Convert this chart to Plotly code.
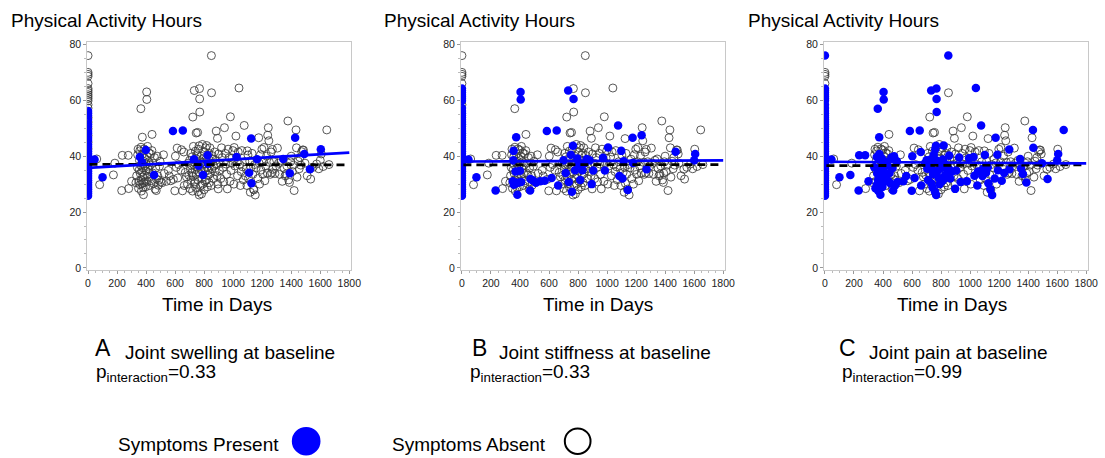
import plotly.graph_objects as go

# ---------------- data ----------------
# membership string: letters of panels (A, B, C) in which the point is "Symptoms Present"
baseline_hours = [76.0, 70.0, 69.3, 68.6, 66.0, 64.2, 63.5, 62.8, 62.0, 61.3, 60.6, 59.8, 58.4, 57.2,
                  56.2, 55.4, 54.6, 53.8, 53.0, 52.2, 51.4, 50.6, 49.8, 49.0, 48.2, 47.4, 46.6, 45.8,
                  45.0, 44.2, 43.4, 42.6, 41.8, 41.0, 40.2, 39.4, 38.6, 37.8, 37.0, 36.2, 35.4, 34.6,
                  33.8, 33.0, 32.2, 31.4, 30.6, 29.8, 29.0, 28.2, 27.4, 26.6, 25.8]
baseline_present = ["C", "", "", "", "", "BC", "BC", "BC", "BC", "BC", "BC", "BC", "C", "BC",
                    "ABC", "ABC", "ABC", "BC", "ABC", "BC", "ABC", "ABC", "BC", "ABC", "ABC", "BC", "ABC", "ABC",
                    "BC", "ABC", "ABC", "BC", "ABC", "ABC", "ABC", "BC", "ABC", "ABC", "ABC", "ABC", "ABC", "ABC",
                    "ABC", "ABC", "ABC", "ABC", "ABC", "ABC", "ABC", "ABC", "ABC", "ABC", "ABC"]

early = [(45, 38.8, "ABC"), (60, 39.0, ""), (80, 29.8, ""), (100, 32.5, "ABC"), (175, 33.3, "C"),
         (185, 37.5, ""), (232, 27.7, "BC"), (236, 40.3, "C"), (277, 40.3, "C"), (280, 28.4, ""),
         (300, 31.0, "C")]

year1 = [(330, 30.5, ""), (335, 33.0, ""), (340, 36.0, "C"), (342, 40.5, ""), (345, 42.5, ""),
         (348, 28.5, "C"), (350, 31.0, "B"), (352, 35.0, ""), (354, 38.5, "B"), (356, 41.9, "B"),
         (357, 39.7, "AC"), (358, 29.8, "BC"), (360, 33.8, "C"), (362, 36.8, ""), (364, 57.0, "C"),
         (365, 43.2, ""), (366, 31.5, "C"), (368, 27.5, "C"), (370, 34.5, "B"), (371, 30.2, "BC"),
         (372, 37.8, "A"), (374, 46.8, "BC"), (375, 40.8, "C"), (376, 32.5, "C"), (378, 35.8, "C"),
         (380, 28.8, ""), (382, 26.2, "BC"), (383, 38.2, ""), (385, 30.5, "B"), (386, 42.6, ""),
         (388, 33.2, "C"), (390, 36.5, ""), (392, 39.2, "C"), (394, 31.0, "C"), (396, 29.0, "C"),
         (398, 42.2, "A"), (400, 34.8, "BC"), (402, 37.2, "C"), (404, 63.0, "BC"), (405, 60.3, "BC"),
         (406, 40.0, ""), (408, 30.8, "BC"), (410, 43.5, ""), (412, 32.6, "C"), (415, 35.5, ""),
         (418, 38.0, "C"), (420, 41.2, ""), (422, 29.5, ""), (425, 33.8, "C"), (428, 36.8, "C"),
         (432, 40.8, ""), (435, 31.2, "C"), (440, 42.0, ""), (441, 47.8, ""), (445, 34.0, "C"),
         (448, 37.5, ""), (452, 30.2, "C"), (455, 33.3, "A"), (458, 39.5, "C"), (462, 28.2, ""),
         (466, 35.8, "C"), (470, 27.7, "BC"), (472, 31.8, "B"), (476, 40.0, "C"), (480, 33.0, ""),
         (484, 29.6, "C"), (488, 31.4, "B"), (492, 36.4, ""), (496, 38.2, "C"), (500, 30.8, "C")]

mid1 = [(510, 30.5, "B"), (520, 40.5, ""), (525, 33.8, ""), (540, 31.0, "BC"), (553, 34.9, ""),
        (560, 32.9, "C"), (570, 31.2, "B"), (585, 49.0, "ABC"), (588, 31.7, ""), (598, 27.6, "C"),
        (602, 40.0, "C"), (608, 36.0, ""), (614, 42.9, ""), (618, 32.2, "BC"), (625, 37.0, ""),
        (640, 35.0, ""), (644, 42.3, ""), (651, 27.6, ""), (653, 49.2, "ABC"), (660, 41.5, "C"),
        (663, 29.5, "BC"), (670, 34.2, ""), (678, 32.6, "")]

year2 = [(685, 30.0, ""), (690, 37.5, "C"), (695, 33.2, ""), (700, 38.5, "BC"), (702, 28.4, ""),
         (705, 35.5, "C"), (708, 41.0, ""), (710, 31.5, "C"), (712, 36.8, "C"), (715, 34.0, "B"),
         (718, 39.8, ""), (720, 27.5, ""), (722, 54.0, ""), (724, 32.8, ""), (726, 43.5, ""),
         (728, 37.0, "C"), (730, 38.9, "AC"), (732, 63.5, "BC"), (734, 30.2, "C"), (736, 30.8, "B"),
         (738, 35.2, "C"), (740, 41.8, ""), (742, 28.8, "C"), (745, 48.3, ""), (746, 33.5, "C"),
         (748, 39.0, ""), (750, 40.5, "BC"), (752, 36.0, ""), (755, 48.5, ""), (756, 31.6, ""),
         (758, 27.3, "BC"), (760, 42.5, "C"), (762, 36.6, "A"), (764, 34.2, "C"), (765, 43.7, "BC"),
         (766, 26.1, "C"), (768, 64.2, "C"), (769, 60.5, "BC"), (770, 55.8, "C"), (772, 38.4, "C"),
         (775, 29.4, ""), (778, 40.0, ""), (780, 35.0, "BC"), (782, 26.5, ""), (784, 32.2, "C"),
         (786, 37.8, ""), (788, 44.2, ""), (790, 30.0, "C"), (792, 33.3, "A"), (795, 39.2, "B"),
         (798, 35.8, "C"), (800, 28.0, ""), (802, 41.5, ""), (804, 37.2, "BC"), (806, 31.0, "C"),
         (808, 34.6, ""), (810, 43.0, ""), (812, 38.8, "C"), (815, 31.5, "BC"), (818, 43.8, "C"),
         (820, 36.0, "C"), (822, 29.0, ""), (824, 40.3, "A"), (826, 37.3, "AC"), (828, 33.2, "C"),
         (830, 35.0, "B"), (832, 41.0, ""), (835, 30.5, ""), (838, 38.5, ""), (840, 43.0, ""),
         (842, 33.8, "C"), (845, 37.5, "B"), (848, 29.5, ""), (850, 76.0, "C"), (851, 62.7, ""),
         (853, 35.5, "C"), (856, 40.2, "C"), (860, 39.0, "B"), (864, 32.0, "C"), (868, 36.5, ""),
         (872, 41.5, ""), (876, 34.5, "C"), (880, 38.5, "B"), (883, 49.0, ""), (886, 37.0, ""),
         (889, 33.0, ""), (892, 46.4, ""), (894, 30.0, "B"), (897, 28.3, "C"), (900, 40.8, "")]

mid2 = [(905, 34.9, "BC"), (910, 37.5, ""), (915, 32.0, ""), (920, 43.0, ""), (925, 39.5, "C"),
        (930, 36.0, ""), (935, 30.8, "C"), (940, 50.2, ""), (945, 41.0, ""), (950, 37.2, ""),
        (955, 33.5, ""), (960, 28.3, ""), (965, 42.5, ""), (972, 39.4, "B"), (978, 31.0, "C"),
        (981, 54.1, ""), (985, 34.9, "B"), (990, 37.5, ""), (993, 39.3, "C"), (998, 42.0, "")]

year3 = [(1005, 30.0, ""), (1007, 43.1, "B"), (1012, 36.5, ""), (1019, 47.2, ""), (1024, 39.7, "AC"),
         (1030, 33.0, "C"), (1035, 41.5, ""), (1040, 64.4, "C"), (1045, 37.0, ""), (1050, 29.5, "C"),
         (1055, 34.5, "C"), (1060, 42.0, ""), (1065, 36.2, ""), (1070, 31.5, ""), (1076, 51.0, "BC"),
         (1080, 38.0, ""), (1085, 32.9, "BC"), (1090, 35.5, "C"), (1095, 29.5, ""), (1098, 41.9, "B"),
         (1102, 40.4, "C"), (1106, 32.0, "B"), (1110, 34.1, "AC"), (1114, 38.2, "B"), (1118, 27.1, ""),
         (1122, 36.0, "C"), (1124, 46.3, "A"), (1126, 30.3, "AC"), (1130, 41.0, ""), (1135, 33.5, ""),
         (1140, 28.2, "C"), (1143, 27.9, "B"), (1148, 37.0, ""), (1152, 26.1, "C"), (1158, 35.8, ""),
         (1165, 38.9, "A"), (1170, 32.0, "C"), (1176, 46.6, "BC"), (1178, 37.6, "B"), (1182, 30.0, ""),
         (1188, 40.5, "C"), (1192, 35.0, "C"), (1198, 42.5, ""), (1204, 33.5, ""), (1210, 38.0, ""),
         (1212, 43.1, ""), (1218, 31.2, "C"), (1224, 36.5, ""), (1230, 40.0, ""), (1235, 34.0, "C"),
         (1238, 47.5, "B"), (1242, 50.2, ""), (1246, 45.5, ""), (1250, 37.8, ""), (1256, 33.5, ""),
         (1262, 41.5, ""), (1266, 34.0, ""), (1270, 42.4, "C"), (1272, 35.3, "BC"), (1280, 38.0, ""),
         (1288, 33.8, ""), (1295, 36.5, "")]

year4 = [(1305, 42.9, ""), (1312, 37.5, ""), (1320, 33.5, ""), (1330, 38.5, ""), (1338, 31.0, ""),
         (1345, 39.0, "AC"), (1352, 35.6, "C"), (1358, 33.0, ""), (1364, 33.6, "C"), (1370, 36.5, ""),
         (1377, 52.6, ""), (1382, 31.5, ""), (1388, 30.6, "C"), (1390, 33.9, "A"), (1395, 38.0, ""),
         (1400, 40.0, ""), (1408, 34.5, ""), (1415, 36.8, ""), (1420, 27.7, ""), (1427, 46.6, "A"),
         (1433, 49.4, "C"), (1436, 43.0, "C"), (1440, 32.5, ""), (1448, 38.2, ""), (1455, 35.5, ""),
         (1460, 39.5, ""), (1466, 36.8, ""), (1472, 41.6, "B"), (1478, 42.2, ""), (1484, 42.2, ""),
         (1490, 40.8, "A"), (1495, 37.5, "C"), (1510, 33.0, ""), (1529, 35.3, "A"), (1534, 31.8, "C"),
         (1550, 36.0, ""), (1575, 37.2, ""), (1590, 35.5, ""), (1600, 38.5, "BC"), (1604, 42.5, "A"),
         (1607, 40.8, "BC"), (1620, 36.3, ""), (1645, 49.4, "C"), (1660, 37.0, "")]

# fitted lines: panel -> (start, end) values
fit_x_present = [0, 1800]
fit_x_absent = [10, 1780]
fit_present = {"A": [35.8, 41.3], "B": [38.1, 38.5], "C": [38.0, 37.4]}
fit_absent = {"A": [37.1, 36.9], "B": [36.9, 37.0], "C": [36.6, 36.9]}

panels = ["A", "B", "C"]
panel_labels = ["Joint swelling at baseline", "Joint stiffness at baseline", "Joint pain at baseline"]
p_values = ["0.33", "0.33", "0.99"]
x_ticks = [0, 200, 400, 600, 800, 1000, 1200, 1400, 1600, 1800]
y_ticks = [0, 20, 40, 60, 80]

# ---------------- assemble ----------------
all_day = [0] * len(baseline_hours)
all_hours = list(baseline_hours)
all_pres = list(baseline_present)
for grp in (early, year1, mid1, year2, mid2, year3, year4):
    for d, h, p in grp:
        all_day.append(d)
        all_hours.append(h)
        all_pres.append(p)

W, H = 1105, 458
# pixel geometry of each panel frame
x_dom_px = {"A": (86.1, 353.3), "B": (464.1, 731.3), "C": (831.1, 1098.3)}
y_dom_px = (38.5, 270.3)
title_left = {"A": 7, "B": 384, "C": 752}
xtitle_center = {"A": 217.5, "B": 602.8, "C": 960.5}
letter_left = {"A": 92, "B": 473, "C": 844}
label_left = {"A": 122, "B": 500, "C": 875}
p_left = {"A": 93, "B": 471, "C": 847}

fig = go.Figure()
layout_axes = {}
annotations = []
FONT = "Arial, Liberation Sans, sans-serif"
TXT = 19

for i, pan in enumerate(panels):
    suffix = "" if i == 0 else str(i + 1)
    xa, ya = "x" + suffix, "y" + suffix
    hx = [d for d, p in zip(all_day, all_pres) if pan not in p]
    hy = [h for h, p in zip(all_hours, all_pres) if pan not in p]
    px_ = [d for d, p in zip(all_day, all_pres) if pan in p]
    py_ = [h for h, p in zip(all_hours, all_pres) if pan in p]
    fig.add_trace(go.Scatter(x=hx, y=hy, mode="markers", xaxis=xa, yaxis=ya, showlegend=False,
                             hoverinfo="skip",
                             marker=dict(symbol="circle-open", size=8, color="#3a3a3a",
                                         line=dict(width=0.85, color="#3a3a3a"))))
    fig.add_trace(go.Scatter(x=px_, y=py_, mode="markers", xaxis=xa, yaxis=ya, showlegend=False,
                             hoverinfo="skip",
                             marker=dict(symbol="circle", size=8.5, color="#0000ff",
                                         line=dict(width=0))))
    fig.add_trace(go.Scatter(x=fit_x_absent, y=fit_absent[pan], mode="lines", xaxis=xa, yaxis=ya,
                             showlegend=False, hoverinfo="skip",
                             line=dict(color="black", width=2.8, dash="8px,5px")))
    fig.add_trace(go.Scatter(x=fit_x_present, y=fit_present[pan], mode="lines", xaxis=xa, yaxis=ya,
                             showlegend=False, hoverinfo="skip",
                             line=dict(color="#0000ff", width=2.7)))

    x0, x1 = x_dom_px[pan]
    layout_axes["xaxis" + suffix] = dict(
        domain=[x0 / W, x1 / W], range=[-6, 1815], anchor=ya, tickvals=x_ticks,
        showgrid=False, zeroline=False, showline=True, linecolor="#c8c8c8", linewidth=1, mirror=True,
        ticks="outside", ticklen=3, tickcolor="#999", tickfont=dict(size=10.5, color="#222", family=FONT),
        minor=dict(dtick=50, ticks="outside", ticklen=2, tickcolor="#bbb"))
    layout_axes["yaxis" + suffix] = dict(
        domain=[1 - y_dom_px[1] / H, 1 - y_dom_px[0] / H], range=[-0.8, 80.9], anchor=xa,
        tickvals=y_ticks, showgrid=False, zeroline=False, showline=True, linecolor="#c8c8c8",
        linewidth=1, mirror=True, ticks="outside", ticklen=3, tickcolor="#999",
        tickfont=dict(size=10.5, color="#222", family=FONT),
        minor=dict(dtick=5, ticks="outside", ticklen=2, tickcolor="#bbb"))

    annotations.append(dict(text="Physical Activity Hours", x=title_left[pan] / W, y=1 - 17 / H,
                            xref="paper", yref="paper", xanchor="left", yanchor="middle",
                            showarrow=False, font=dict(size=TXT, color="black", family=FONT)))
    annotations.append(dict(text="Time in Days", x=xtitle_center[pan] / W, y=1 - 305 / H,
                            xref="paper", yref="paper", xanchor="center", yanchor="middle",
                            showarrow=False, font=dict(size=TXT, color="black", family=FONT)))
    annotations.append(dict(text=pan, x=letter_left[pan] / W, y=1 - 349.5 / H,
                            xref="paper", yref="paper", xanchor="left", yanchor="middle",
                            showarrow=False, font=dict(size=23, color="black", family=FONT)))
    annotations.append(dict(text=panel_labels[i], x=label_left[pan] / W, y=1 - 353.5 / H,
                            xref="paper", yref="paper", xanchor="left", yanchor="middle",
                            showarrow=False, font=dict(size=TXT, color="black", family=FONT)))
    annotations.append(dict(text="p<sub>interaction</sub>=" + p_values[i], x=p_left[pan] / W,
                            y=1 - 375 / H, xref="paper", yref="paper", xanchor="left",
                            yanchor="middle", showarrow=False,
                            font=dict(size=TXT, color="black", family=FONT)))

# legend
annotations.append(dict(text="Symptoms Present", x=115 / W, y=1 - 447 / H, xref="paper", yref="paper",
                        xanchor="left", yanchor="middle", showarrow=False,
                        font=dict(size=TXT, color="black", family=FONT)))
annotations.append(dict(text="Symptoms Absent", x=392 / W, y=1 - 447 / H, xref="paper", yref="paper",
                        xanchor="left", yanchor="middle", showarrow=False,
                        font=dict(size=TXT, color="black", family=FONT)))
shapes = [
    dict(type="circle", xref="paper", yref="paper", x0=293 / W, x1=322 / W,
         y0=1 - 458.5 / H, y1=1 - 429.5 / H, fillcolor="#0000ff", line=dict(width=0)),
    dict(type="circle", xref="paper", yref="paper", x0=569 / W, x1=595 / W,
         y0=1 - 457 / H, y1=1 - 431 / H, fillcolor="rgba(0,0,0,0)", line=dict(width=2, color="black")),
]

fig.update_layout(width=W, height=H, margin=dict(l=0, r=0, t=0, b=0), plot_bgcolor="white",
                  paper_bgcolor="white", showlegend=False, annotations=annotations, shapes=shapes,
                  font=dict(family=FONT), hovermode=False, **layout_axes)

fig.write_html("out.html", config={"displayModeBar": False},
               post_script="document.body.style.margin='0';document.body.style.overflow='hidden';")
